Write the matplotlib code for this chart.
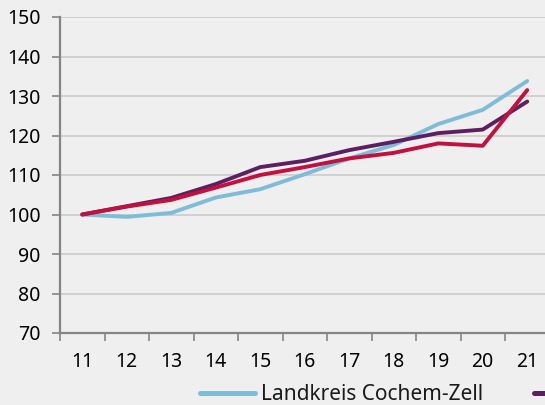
import matplotlib
matplotlib.use("Agg")
import matplotlib.pyplot as plt
import numpy as np

BG = "#eeefee"
BLUE, PURPLE, RED = "#7ebcd8", "#5c1f5f", "#c2103f"
AXC, GRIDC = "#858585", "#c9c9c9"
plt.rcParams.update({"font.family": ["Noto Sans", "DejaVu Sans"], "text.color": "#1a1a1a"})

years = ["11", "12", "13", "14", "15", "16", "17", "18", "19", "20", "21"]
cochem = [100, 99.4, 100.4, 104.3, 106.4, 110.2, 114.2, 117.6, 122.9, 126.5, 133.8]
purple = [100, 102.1, 104.2, 107.7, 112.0, 113.6, 116.3, 118.4, 120.6, 121.5, 128.6]
red = [100, 102.0, 103.7, 106.8, 110.0, 112.0, 114.2, 115.6, 118.0, 117.4, 131.5]
names = ["Landkreis Cochem-Zell", "Rheinland-Pfalz", "Deutschland"]
yticks = [70, 80, 90, 100, 110, 120, 130, 140, 150]

fig = plt.figure(figsize=(5.45, 4.05), dpi=100)
fig.patch.set_facecolor(BG)
ax = fig.add_axes([60/545, 1-333/405, 489.5/545, 316/405])
ax.set_facecolor(BG)

x = np.arange(len(years))
for vals, c, n in [(cochem, BLUE, names[0]), (purple, PURPLE, names[1]), (red, RED, names[2])]:
    ax.plot(x, vals, color=c, lw=2.8, label=n, solid_capstyle="round", zorder=3)

ax.set_xlim(-0.5, len(years) - 0.5)
ax.set_ylim(70, 150)
ax.set_yticks(yticks)
ax.tick_params(axis="y", length=6, width=1.2, color=AXC, labelsize=14, pad=8)
ax.yaxis.grid(True, color=GRIDC, lw=1.1, zorder=0)
ax.set_xticks(x)
ax.set_xticklabels(years)
ax.set_xticks(np.arange(len(years) + 1) - 0.5, minor=True)
ax.tick_params(axis="x", which="major", length=0, labelsize=14, pad=14)
ax.tick_params(axis="x", which="minor", length=6, width=1.2, color=AXC)
for s in ["top", "right"]:
    ax.spines[s].set_visible(False)
for s in ["left", "bottom"]:
    ax.spines[s].set_color(AXC)
    ax.spines[s].set_linewidth(1.6)

fig.legend(loc="center left", bbox_to_anchor=(200/545, 1-395/405), ncol=3, frameon=False,
           fontsize=15, handlelength=2.65, handletextpad=0.3, columnspacing=2.4,
           borderpad=0, borderaxespad=0)
for h in fig.legends[0].get_lines():
    h.set_linewidth(3.6)

fig.savefig("out.png", dpi=100, facecolor=BG)
